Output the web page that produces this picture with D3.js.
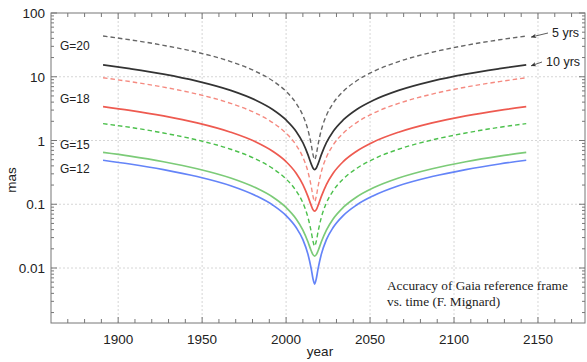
<!DOCTYPE html>
<html>
<head>
<meta charset="utf-8">
<script src="https://cdn.jsdelivr.net/npm/d3@7"></script>
<style>
  body { margin: 0; background: #fff; }
  svg { display: block; font-family: "Liberation Sans", Arial, sans-serif; }
</style>
</head>
<body>
<svg id="chart"></svg>
<script>
// sample epochs (years)
const years = [1891, 1907, 1927, 1947, 1967, 1982, 1992, 2000, 2006, 2010, 2013, 2015, 2016,
  2017, 2018, 2019, 2021, 2024, 2028, 2034, 2042, 2052, 2067, 2087, 2107, 2127, 2143];

// accuracy in mas
const g20_5 = [43.5, 38.0, 31.1, 24.2, 17.3, 12.1, 8.64, 5.89, 3.83, 2.47, 1.47, 0.852, 0.607,
  0.5, 0.607, 0.852, 1.47, 2.47, 3.83, 5.89, 8.64, 12.1, 17.3, 24.2, 31.1, 38.0, 43.5];
const g20_10 = [15.4, 13.4, 11.0, 8.55, 6.11, 4.28, 3.07, 2.10, 1.387, 0.923, 0.600, 0.427, 0.371,
  0.35, 0.371, 0.427, 0.600, 0.923, 1.387, 2.10, 3.07, 4.28, 6.11, 8.55, 11.0, 13.4, 15.4];
const g18_5 = [9.63, 8.40, 6.88, 5.35, 3.82, 2.68, 1.91, 1.30, 0.847, 0.546, 0.325, 0.188, 0.134,
  0.11, 0.134, 0.188, 0.325, 0.546, 0.847, 1.30, 1.91, 2.68, 3.82, 5.35, 6.88, 8.40, 9.63];
const g18_10 = [3.40, 2.97, 2.43, 1.89, 1.35, 0.948, 0.679, 0.466, 0.307, 0.204, 0.133, 0.095, 0.0825,
  0.078, 0.0825, 0.095, 0.133, 0.204, 0.307, 0.466, 0.679, 0.948, 1.35, 1.89, 2.43, 2.97, 3.40];
const g15_5 = [1.84, 1.61, 1.31, 1.02, 0.730, 0.511, 0.365, 0.249, 0.162, 0.105, 0.0624, 0.0366, 0.0264,
  0.022, 0.0264, 0.0366, 0.0624, 0.105, 0.162, 0.249, 0.365, 0.511, 0.730, 1.02, 1.31, 1.61, 1.84];
const g15_10 = [0.650, 0.568, 0.464, 0.361, 0.258, 0.181, 0.130, 0.0890, 0.0588, 0.0393, 0.0258, 0.0185, 0.0162,
  0.0154, 0.0162, 0.0185, 0.0258, 0.0393, 0.0588, 0.0890, 0.130, 0.181, 0.258, 0.361, 0.464, 0.568, 0.650];
const g12_10 = [0.490, 0.428, 0.350, 0.272, 0.195, 0.136, 0.0974, 0.0664, 0.0431, 0.0278, 0.0165, 0.00959, 0.00682,
  0.0056, 0.00682, 0.00959, 0.0165, 0.0278, 0.0431, 0.0664, 0.0974, 0.136, 0.195, 0.272, 0.350, 0.428, 0.490];

const xTicks = [1900, 1950, 2000, 2050, 2100, 2150];
const yTicks = [0.01, 0.1, 1, 10, 100];
const yTickLabels = ['0.01', '0.1', '1', '10', '100'];
const magLabels = ['G=20', 'G=18', 'G=15', 'G=12'];
const magLabelValues = [30, 4.4, 0.85, 0.36];

const series = [
  { values: g20_5, color: '#666', dash: '4.5,3' },
  { values: g20_10, color: '#333', dash: null },
  { values: g18_5, color: '#f58a80', dash: '4.5,3' },
  { values: g18_10, color: '#ee5a50', dash: null },
  { values: g15_5, color: '#4cc04c', dash: '4.5,3' },
  { values: g15_10, color: '#7ccb78', dash: null },
  { values: g12_10, color: '#6484f8', dash: null },
];

const W = 587, H = 362;
const m = { left: 51, right: 585, top: 13, bottom: 323 };

const svg = d3.select('#chart').attr('width', W).attr('height', H);

const x = d3.scaleLinear().domain([1860, 2178]).range([m.left, m.right]);
// 100 at y=13, 0.01 at y=268, lower bound follows the axis at y=323
const decade = (268 - m.top) / 4;
const yMin = Math.pow(10, -2 - (m.bottom - 268) / decade);
const y = d3.scaleLog().domain([yMin, 100]).range([m.bottom, m.top]);

const axisColor = '#777';
const gridColor = '#ccc';

// grid
svg.append('g').selectAll('line').data(xTicks).join('line')
  .attr('x1', d => x(d)).attr('x2', d => x(d))
  .attr('y1', m.top).attr('y2', m.bottom)
  .attr('stroke', gridColor).attr('stroke-width', 0.8).attr('stroke-dasharray', '2,2');
svg.append('g').selectAll('line').data(yTicks.filter(d => d < 100)).join('line')
  .attr('x1', m.left).attr('x2', m.right)
  .attr('y1', d => y(d)).attr('y2', d => y(d))
  .attr('stroke', gridColor).attr('stroke-width', 0.8).attr('stroke-dasharray', '2,2');

// curves
const line = d3.line()
  .x((d, i) => x(years[i]))
  .y(d => y(d))
  .curve(d3.curveMonotoneX);

svg.append('g').selectAll('path').data(series).join('path')
  .attr('d', d => line(d.values))
  .attr('fill', 'none')
  .attr('stroke', d => d.color)
  .attr('stroke-width', d => d.dash ? 1.4 : 1.7)
  .attr('stroke-dasharray', d => d.dash);

// frame
svg.append('rect')
  .attr('x', m.left).attr('y', m.top)
  .attr('width', m.right - m.left).attr('height', m.bottom - m.top)
  .attr('fill', 'none').attr('stroke', axisColor).attr('stroke-width', 1);

// x ticks (bottom and top, inward)
const xMinor = d3.range(1870, 2180, 10);
const tickG = svg.append('g').attr('stroke', axisColor).attr('stroke-width', 1);
xMinor.forEach(t => {
  const len = xTicks.includes(t) ? 6 : 4;
  tickG.append('line').attr('x1', x(t)).attr('x2', x(t)).attr('y1', m.bottom).attr('y2', m.bottom - len);
  tickG.append('line').attr('x1', x(t)).attr('x2', x(t)).attr('y1', m.top).attr('y2', m.top + len);
});

// y ticks (left and right, inward)
const yMinor = [];
[0.001, 0.01, 0.1, 1, 10].forEach(p => {
  for (let k = 2; k <= 9; k++) yMinor.push(p * k);
});
yMinor.filter(v => v >= yMin && v <= 100).forEach(v => {
  tickG.append('line').attr('x1', m.left).attr('x2', m.left + 3).attr('y1', y(v)).attr('y2', y(v));
  tickG.append('line').attr('x1', m.right).attr('x2', m.right - 3).attr('y1', y(v)).attr('y2', y(v));
});
yTicks.forEach(v => {
  tickG.append('line').attr('x1', m.left).attr('x2', m.left + 6).attr('y1', y(v)).attr('y2', y(v));
  tickG.append('line').attr('x1', m.right).attr('x2', m.right - 6).attr('y1', y(v)).attr('y2', y(v));
});

// tick labels
svg.append('g').selectAll('text').data(xTicks).join('text')
  .attr('x', d => x(d)).attr('y', m.bottom + 21)
  .attr('text-anchor', 'middle').attr('font-size', 13.5).attr('fill', '#222')
  .text(d => d);
svg.append('g').selectAll('text').data(yTicks).join('text')
  .attr('x', m.left - 6).attr('y', d => y(d) + 5)
  .attr('text-anchor', 'end').attr('font-size', 13.5).attr('fill', '#222')
  .text((d, i) => yTickLabels[i]);

// axis titles
svg.append('text').attr('x', 320).attr('y', 356)
  .attr('text-anchor', 'middle').attr('font-size', 13.5).attr('fill', '#222').text('year');
svg.append('text').attr('transform', `translate(16,${(m.top + m.bottom) / 2 + 12}) rotate(-90)`)
  .attr('text-anchor', 'middle').attr('font-size', 13.5).attr('fill', '#222').text('mas');

// magnitude labels
svg.append('g').selectAll('text').data(magLabels).join('text')
  .attr('x', 60).attr('y', (d, i) => y(magLabelValues[i]) + 4)
  .attr('font-size', 12).attr('fill', '#222').text(d => d);

// mission length labels with arrows
svg.append('defs').append('marker')
  .attr('id', 'arr').attr('viewBox', '0 -5 10 10')
  .attr('refX', 9).attr('refY', 0)
  .attr('markerWidth', 7).attr('markerHeight', 7).attr('orient', 'auto')
  .append('path').attr('d', 'M0,-4L10,0L0,4L3,0Z').attr('fill', '#333');

const notes = [
  { text: '5 yrs', at: g20_5[g20_5.length - 1], tx: 552, ty: 37 },
  { text: '10 yrs', at: g20_10[g20_10.length - 1], tx: 546, ty: 66 },
];
notes.forEach(n => {
  svg.append('line')
    .attr('x1', n.tx - 4).attr('y1', n.ty - 4)
    .attr('x2', x(2143) + 5).attr('y2', y(n.at) + 1)
    .attr('stroke', '#333').attr('stroke-width', 0.8)
    .attr('marker-end', 'url(#arr)');
  svg.append('text').attr('x', n.tx).attr('y', n.ty)
    .attr('font-size', 12.5).attr('fill', '#222').text(n.text);
});

// caption
const cap = svg.append('text').attr('font-family', '"Liberation Serif", "Times New Roman", serif')
  .attr('font-size', 13.3).attr('fill', '#222');
cap.append('tspan').attr('x', 387).attr('y', 290).text('Accuracy of Gaia reference frame');
cap.append('tspan').attr('x', 387).attr('y', 306).text('vs. time (F. Mignard)');
</script>
</body>
</html>
